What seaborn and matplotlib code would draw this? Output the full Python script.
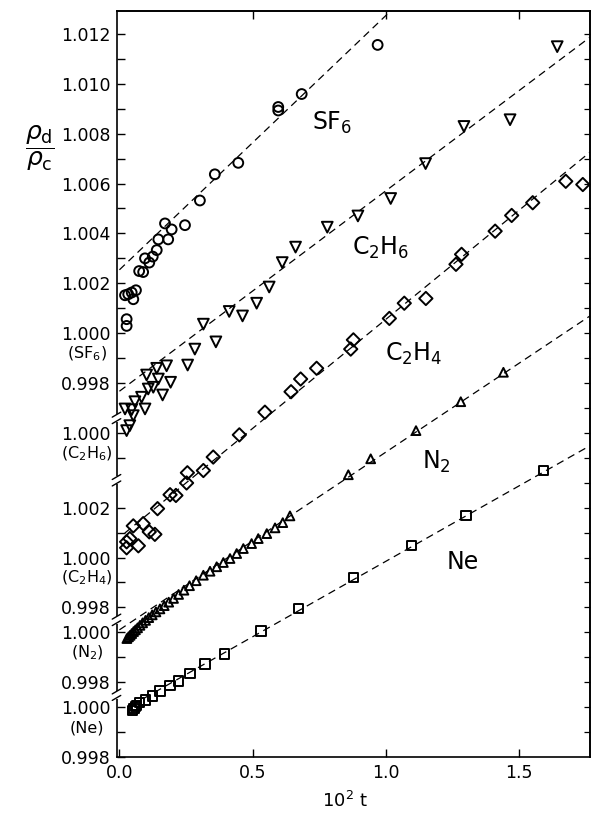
import numpy as np
import pandas as pd
import matplotlib
matplotlib.use("Agg")
import matplotlib.pyplot as plt
import matplotlib.transforms as mtransforms
import seaborn as sns

# ---------------- data (t in units of 10^-2, rho_d/rho_c) ----------------
sf6_t = [0.021, 0.027, 0.027, 0.033, 0.046, 0.052, 0.062, 0.074, 0.089, 0.096, 0.112,
         0.125, 0.140, 0.146, 0.171, 0.183, 0.196, 0.246, 0.302, 0.358, 0.446, 0.596,
         0.596, 0.684, 0.969]
sf6_rho = [1.00152, 1.00056, 1.00029, 1.00156, 1.00163, 1.00136, 1.00172, 1.00249, 1.00245,
           1.00300, 1.00283, 1.00307, 1.00333, 1.00376, 1.00440, 1.00376, 1.00416, 1.00433,
           1.00532, 1.00637, 1.00683, 1.00893, 1.00907, 1.00959, 1.01156]

c2h6_t = [0.021, 0.027, 0.039, 0.046, 0.052, 0.058, 0.083, 0.096, 0.102, 0.108, 0.127,
          0.140, 0.146, 0.162, 0.177, 0.192, 0.256, 0.283, 0.315, 0.362, 0.412, 0.462,
          0.515, 0.562, 0.611, 0.661, 0.780, 0.895, 1.018, 1.149, 1.293, 1.466, 1.643]
c2h6_rho = [1.00096, 1.00009, 1.00029, 1.00093, 1.00069, 1.00125, 1.00143, 1.00096, 1.00232,
            1.00176, 1.00183, 1.00259, 1.00216, 1.00152, 1.00269, 1.00203, 1.00272, 1.00336,
            1.00436, 1.00365, 1.00487, 1.00469, 1.00520, 1.00585, 1.00683, 1.00745, 1.00825,
            1.00870, 1.00940, 1.01080, 1.01229, 1.01256, 1.01549]

c2h4_t = [0.027, 0.027, 0.039, 0.052, 0.071, 0.089, 0.112, 0.133, 0.143, 0.190, 0.212,
          0.252, 0.255, 0.315, 0.352, 0.450, 0.546, 0.644, 0.680, 0.740, 0.868, 0.878,
          1.013, 1.069, 1.150, 1.263, 1.284, 1.410, 1.472, 1.551, 1.675, 1.739]
c2h4_rho = [1.00039, 1.00063, 1.00076, 1.00127, 1.00047, 1.00136, 1.00103, 1.00093, 1.00196,
            1.00252, 1.00249, 1.00299, 1.00340, 1.00349, 1.00403, 1.00492, 1.00583, 1.00665,
            1.00716, 1.00759, 1.00836, 1.00873, 1.00959, 1.01020, 1.01039, 1.01176, 1.01216,
            1.01309, 1.01372, 1.01423, 1.01509, 1.01496]

n2_t = [0.028, 0.034, 0.040, 0.046, 0.053, 0.060, 0.068, 0.077, 0.087, 0.098, 0.110,
        0.123, 0.137, 0.152, 0.168, 0.185, 0.203, 0.222, 0.242, 0.263, 0.288, 0.315,
        0.340, 0.365, 0.390, 0.415, 0.440, 0.465, 0.496, 0.521, 0.553, 0.584, 0.613,
        0.640, 0.859, 0.943, 1.113, 1.281, 1.441]
n2_rho = [0.99975, 0.99982, 0.99988, 0.99995, 1.00003, 1.00010, 1.00018, 1.00028, 1.00038,
          1.00048, 1.00059, 1.00070, 1.00082, 1.00094, 1.00107, 1.00121, 1.00136, 1.00152,
          1.00169, 1.00187, 1.00207, 1.00229, 1.00245, 1.00263, 1.00280, 1.00296, 1.00316,
          1.00336, 1.00356, 1.00376, 1.00396, 1.00419, 1.00440, 1.00467, 1.00632, 1.00696,
          1.00809, 1.00925, 1.01043]

ne_t = [0.050, 0.055, 0.060, 0.065, 0.074, 0.099, 0.125, 0.152, 0.190, 0.223, 0.265,
        0.321, 0.393, 0.531, 0.671, 0.879, 1.097, 1.301, 1.591]
ne_rho = [0.99985, 0.99995, 1.00002, 1.00008, 1.00019, 1.00029, 1.00045, 1.00065, 1.00087,
          1.00105, 1.00135, 1.00173, 1.00213, 1.00305, 1.00396, 1.00520, 1.00649, 1.00769,
          1.00949]

# fitted straight lines: end points (t, rho)
fit_t = {"SF6": [0.0, 1.2], "C2H6": [0.0, 1.78], "C2H4": [0.02, 1.78],
         "N2": [0.0, 1.78], "Ne": [0.05, 1.78]}
fit_rho = {"SF6": [1.00254, 1.01478], "C2H6": [1.00167, 1.01598], "C2H4": [1.00098, 1.01638],
           "N2": [1.00010, 1.01279], "Ne": [1.00010, 1.01057]}

gases = ["SF6", "C2H6", "C2H4", "N2", "Ne"]
gas_text = ["SF$_6$", "C$_2$H$_6$", "C$_2$H$_4$", "N$_2$", "Ne"]
sub_text = ["(SF$_6$)", "(C$_2$H$_6$)", "(C$_2$H$_4$)", "(N$_2$)", "(Ne)"]
# vertical shift of each gas on the stacked axis (units of 0.001)
offsets = [0.0, -4.0, -9.0, -12.0, -15.0]

# left-axis tick labels
ytick_labels = ["1.012", "1.010", "1.008", "1.006", "1.004", "1.002", "1.000", "0.998",
                "1.000", "1.002", "1.000", "0.998", "1.000", "0.998", "1.000", "0.998"]
xtick_vals = [0.0, 0.5, 1.0, 1.5]
xtick_labels = ["0.0", "0.5", "1.0", "1.5"]

# ---------------- build frame ----------------
series = {"SF6": (sf6_t, sf6_rho), "C2H6": (c2h6_t, c2h6_rho), "C2H4": (c2h4_t, c2h4_rho),
          "N2": (n2_t, n2_rho), "Ne": (ne_t, ne_rho)}
rows = []
for g, off in zip(gases, offsets):
    t, r = series[g]
    for a, b in zip(t, r):
        rows.append((g, a, b, (b - 1.0) * 1000.0 + off))
df = pd.DataFrame(rows, columns=["gas", "t", "rho", "y"])

lrows = []
for g, off in zip(gases, offsets):
    for a, b in zip(fit_t[g], fit_rho[g]):
        lrows.append((g, a, b, (b - 1.0) * 1000.0 + off))
dfl = pd.DataFrame(lrows, columns=["gas", "t", "rho", "y"])

# ---------------- figure ----------------
sns.set_style("ticks")
plt.rcParams["font.family"] = ["DejaVu Sans"]
plt.rcParams["mathtext.fontset"] = "dejavusans"
for k in ["text.color", "axes.labelcolor", "xtick.color", "ytick.color", "axes.edgecolor"]:
    plt.rcParams[k] = "black"

W, H = 592, 815
fig = plt.figure(figsize=(W / 100, H / 100), dpi=100)
L, R, T, B = 116.5, 590, 11, 757
ax = fig.add_axes([L / W, 1 - B / H, (R - L) / W, (B - T) / H])

for g in gases:
    d = dfl[dfl.gas == g]
    sns.lineplot(data=d, x="t", y="y", ax=ax, color="black", lw=0.9,
                 linestyle=(0, (6, 4)), sort=False, estimator=None, legend=False)

styles = {"SF6": ("o", 50), "C2H6": ("v", 60), "C2H4": ("D", 46),
          "N2": ("^", 40), "Ne": ("s", 44)}
for g in gases:
    d = df[df.gas == g]
    m, s = styles[g]
    sns.scatterplot(data=d, x="t", y="y", ax=ax, marker=m, s=s,
                    facecolors="none", edgecolors="black", linewidths=1.4,
                    legend=False, zorder=3)

ax.set_xlim(-0.011, 1.766)
ax.set_ylim((334 - B) / 25.0, (334 - T) / 25.0)

major_pos = [12, 10, 8, 6, 4, 2, 0, -2, -4, -7, -9, -11, -12, -14, -15, -17]
minor_pos = [11, 9, 7, 5, 3, 1, -1, -5, -8, -10, -13, -16]
ax.set_yticks(major_pos)
ax.set_yticklabels(ytick_labels)
ax.set_yticks(minor_pos, minor=True)
ax.set_xticks(xtick_vals)
ax.set_xticklabels(xtick_labels)
ax.tick_params(axis="y", which="both", direction="in", length=5.5, width=1.0,
               labelsize=12.5, pad=4, colors="black")
ax.tick_params(axis="x", which="major", direction="in", length=6, width=1.0,
               labelsize=12.5, pad=5, colors="black")
ax.set_xlabel("")
ax.set_ylabel("")
for sp in ax.spines.values():
    sp.set_linewidth(1.2)
    sp.set_color("black")
    sp.set_visible(True)

# right and top ticks
secy = ax.secondary_yaxis("right")
secy.set_yticks(list(range(-16, 13)))
secy.tick_params(direction="in", length=4, width=0.9, labelright=False, colors="black")
secy.spines["right"].set_linewidth(1.2)
secx = ax.secondary_xaxis("top")
secx.set_xticks([0.5, 1.0, 1.5])
secx.tick_params(direction="in", length=6, width=1.0, labeltop=False, colors="black")
secx.spines["top"].set_linewidth(1.2)

# axis break marks
trans = mtransforms.blended_transform_factory(ax.transAxes, ax.transData)
for yb in [-3.4, -5.9, -11.5, -14.5]:
    ax.plot([0, 0], [yb - 0.16, yb + 0.16], transform=trans, color="white",
            lw=3, clip_on=False, zorder=6, solid_capstyle="butt")
    for dy in (-0.13, 0.13):
        ax.plot([-0.009, 0.009], [yb + dy - 0.1, yb + dy + 0.1], transform=trans,
                color="black", lw=1.0, clip_on=False, zorder=7)

# sub-labels beneath the 1.000 tick labels
for st, off in zip(sub_text, offsets):
    ax.text(-0.062, off - 0.82, st, transform=trans, ha="center", va="center",
            fontsize=11.5, clip_on=False)

# gas labels
label_pos = {"SF6": (0.7215, 8.16), "C2H6": (0.872, 3.16), "C2H4": (0.997, -1.11),
             "N2": (1.134, -5.44), "Ne": (1.228, -9.47)}
for g, txt in zip(gases, gas_text):
    x, y = label_pos[g]
    ax.text(x, y, txt, fontsize=17, ha="left", va="baseline")

# axis titles
fig.text(345 / W, 1 - 801 / H, "10$^2$ t", ha="center", va="center", fontsize=13)
fig.text(40 / W, 1 - 148 / H, r"$\dfrac{\rho_{\mathrm{d}}}{\rho_{\mathrm{c}}}$",
         ha="center", va="center", fontsize=18)

fig.savefig("out.png", dpi=100)
